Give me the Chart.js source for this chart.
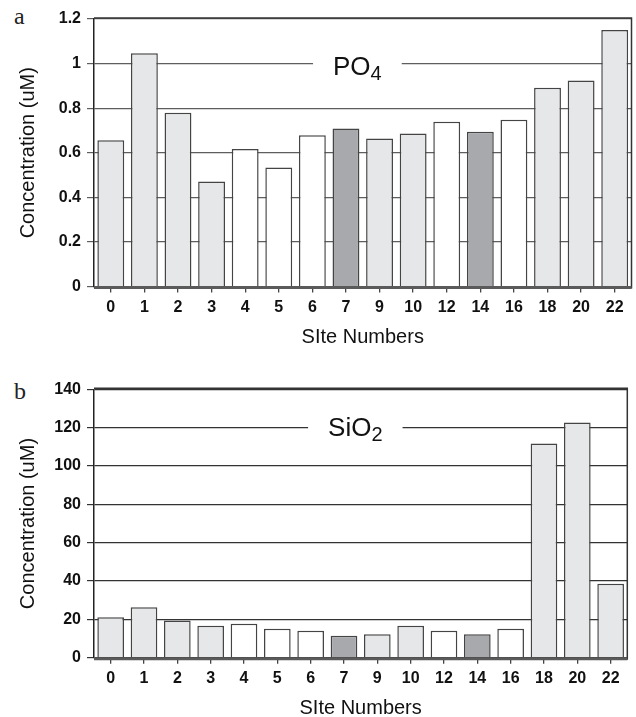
<!DOCTYPE html>
<html>
<head>
<meta charset="utf-8">
<script src="https://cdn.jsdelivr.net/npm/chart.js@4.4.1/dist/chart.umd.min.js"></script>
<style>
  html, body { margin: 0; padding: 0; background: #fff; overflow: hidden; }
  body { width: 636px; height: 717px; position: relative; }
  .panel { position: absolute; left: 0; width: 636px; }
  .tag { position: absolute; left: 14px; font: 24px 'Liberation Serif', 'Times New Roman', serif; line-height: 24px; color: #222; }
</style>
</head>
<body>
<div class="tag" style="top:4px">a</div>
<div class="panel" style="top:0; height:355px"><canvas id="chartPO4"></canvas></div>
<div class="tag" style="top:379px">b</div>
<div class="panel" style="top:355px; height:375px"><canvas id="chartSiO2"></canvas></div>
<script>
// dados
const sites = ['0', '1', '2', '3', '4', '5', '6', '7', '9', '10', '12', '14', '16', '18', '20', '22'];
const siteGroup = ['grey', 'grey', 'grey', 'grey', 'white', 'white', 'white', 'dark',
                   'grey', 'grey', 'white', 'dark', 'white', 'grey', 'grey', 'grey'];
const po4 = [0.656, 1.046, 0.78, 0.471, 0.617, 0.534, 0.679, 0.709, 0.664, 0.686, 0.739, 0.694, 0.748, 0.892, 0.924, 1.151];
const sio2 = [21.2, 26.4, 19.5, 16.7, 17.8, 15.1, 14.1, 11.5, 12.3, 16.7, 14.1, 12.3, 15.1, 111.7, 122.7, 38.6];
const po4Ticks = [0, 0.2, 0.4, 0.6, 0.8, 1, 1.2];
const po4TickLabels = ['0', '0.2', '0.4', '0.6', '0.8', '1', '1.2'];
const sio2Ticks = [0, 20, 40, 60, 80, 100, 120, 140];
const sio2TickLabels = ['0', '20', '40', '60', '80', '100', '120', '140'];

const groupFill = { grey: '#e6e7e8', white: '#ffffff', dark: '#a7a9ac' };
const sans = "'Liberation Sans', Arial, sans-serif";

// rótulo sobre a linha de grade (PO4 / SiO2), com a linha interrompida
const gapLabel = {
    id: 'gapLabel',
    beforeDatasetsDraw(chart, args, opts) {
        const { ctx, chartArea: a, scales: { y } } = chart;
        const yPix = y.getPixelForValue(opts.value);
        const cx = a.left + a.width * opts.pos;
        ctx.save();
        ctx.font = '26px ' + sans;
        const w1 = ctx.measureText(opts.text).width;
        ctx.font = '20px ' + sans;
        const w2 = ctx.measureText(opts.sub).width;
        const x0 = cx - (w1 + w2) / 2;
        ctx.fillStyle = '#fff';
        ctx.fillRect(x0 - 20, yPix - 3, w1 + w2 + 40, 6);
        ctx.fillStyle = '#111';
        ctx.textBaseline = 'alphabetic';
        ctx.font = '26px ' + sans;
        ctx.fillText(opts.text, x0, yPix + opts.dy);
        ctx.font = '20px ' + sans;
        ctx.fillText(opts.sub, x0 + w1, yPix + opts.dy + 5);
        ctx.restore();
    }
};

// moldura: topo, direita e eixo inferior grosso
const frame = {
    id: 'frame',
    afterDatasetsDraw(chart) {
        const { ctx, chartArea: a } = chart;
        ctx.save();
        ctx.strokeStyle = '#333';
        ctx.lineWidth = 1.5;
        ctx.beginPath();
        ctx.moveTo(a.left, a.top - 1);
        ctx.lineTo(a.right, a.top - 1);
        ctx.lineTo(a.right, a.bottom + 2);
        ctx.stroke();
        ctx.strokeStyle = '#5a5a5a';
        ctx.lineWidth = 3;
        ctx.beginPath();
        ctx.moveTo(a.left, a.bottom + 1);
        ctx.lineTo(a.right, a.bottom + 1);
        ctx.stroke();
        ctx.restore();
    }
};

function makeChart(id, values, ticks, tickLabels, maxY, cfg) {
    return new Chart(document.getElementById(id), {
        type: 'bar',
        data: {
            labels: sites,
            datasets: [{
                data: values,
                backgroundColor: siteGroup.map(g => groupFill[g]),
                borderColor: '#444',
                borderWidth: 1.5,
                barPercentage: 0.8,
                categoryPercentage: 1
            }]
        },
        options: {
            responsive: true,
            maintainAspectRatio: false,
            animation: false,
            layout: { padding: { top: cfg.top, right: cfg.right, left: 0, bottom: 0 } },
            plugins: {
                legend: { display: false },
                tooltip: { enabled: false },
                gapLabel: cfg.label
            },
            scales: {
                x: {
                    grid: { drawOnChartArea: false, offset: false, tickLength: 6, color: '#444', lineWidth: 1.3 },
                    border: { display: false },
                    ticks: { color: '#111', padding: 5, font: { family: sans, size: 16, weight: 'bold' } },
                    title: {
                        display: true, text: 'SIte Numbers', color: '#111',
                        font: { family: sans, size: 20 },
                        padding: { top: 0, bottom: cfg.titlePad }
                    },
                    afterFit: s => { s.height = cfg.xHeight; }
                },
                y: {
                    min: 0,
                    max: maxY,
                    afterBuildTicks: s => { s.ticks = ticks.map(v => ({ value: v })); },
                    grid: { color: cfg.grid, lineWidth: 1.2, tickLength: 7 },
                    border: { color: '#222', width: 1.5 },
                    ticks: {
                        color: '#111', padding: 6,
                        font: { family: sans, size: 16, weight: 'bold' },
                        callback: (v, i) => tickLabels[i]
                    },
                    title: {
                        display: true, text: 'Concentration (uM)', color: '#111',
                        font: { family: sans, size: 20 },
                        padding: { top: 16, bottom: 0 }
                    },
                    afterFit: s => { s.width = 94; }
                }
            }
        },
        plugins: [gapLabel, frame]
    });
}

document.addEventListener('DOMContentLoaded', () => {

    // a. PO4
    makeChart('chartPO4', po4, po4Ticks, po4TickLabels, 1.2, {
        top: 19, right: 4.5, xHeight: 68.5, titlePad: 5.5, grid: '#5e5e5e',
        label: { value: 1, text: 'PO', sub: '4', pos: 0.49, dy: 11 }
    });

    // b. SiO2
    makeChart('chartSiO2', sio2, sio2Ticks, sio2TickLabels, 140, {
        top: 34.3, right: 8.7, xHeight: 72.2, titlePad: 9.2, grid: '#333',
        label: { value: 120, text: 'SiO', sub: '2', pos: 0.49, dy: 8 }
    });
});
</script>
</body>
</html>
